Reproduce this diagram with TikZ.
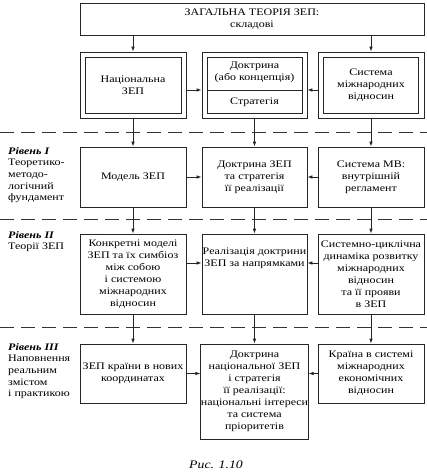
\documentclass[tikz,border=0pt]{standalone}
\usepackage{fontspec}
\setmainfont{Liberation Serif}[FakeStretch=1.2]
\usetikzlibrary{arrows.meta}
\begin{document}
\begin{tikzpicture}[x=1pt,y=-1pt,
  every node/.style={font=\fontsize{10}{12}\selectfont, inner sep=1pt},
  box/.style={draw=black!85, line width=0.8pt, align=center, inner sep=0pt},
  arr/.style={draw=black!85, line width=0.8pt, -{Latex[length=5pt,width=3.6pt]}},
  sep/.style={draw=black!80, line width=1pt, dash pattern=on 14pt off 7pt},
  lvl/.style={align=left, anchor=north west, inner sep=0pt, font=\fontsize{10}{11.7}\selectfont},
  lvlhead/.style={font=\bfseries\itshape}]
\useasboundingbox (0,0) rectangle (427,473);
% top
\node[box, minimum width=344, minimum height=32] (T) at (252,19) {ЗАГАЛЬНА ТЕОРІЯ ЗЕП:\\складові};
% row 1 (double boxes)
\node[box, minimum width=106, minimum height=66] (L1o) at (133,85) {};
\node[box, minimum width=96, minimum height=56] (L1i) at (133,85) {Національна\\ЗЕП};
\node[box, minimum width=105, minimum height=66] (M1o) at (254.5,85) {};
\node[box, minimum width=95, minimum height=56] (M1i) at (254.5,85) {};
\node (M1a) at (254.5,72) [align=center] {Доктрина\\(або концепція)};
\node (M1b) at (254.5,102) {Стратегія};
\coordinate (div) at (254.5,90);
\draw[black!85, line width=0.8pt] (M1i.west |- div) -- (M1i.east |- div);
\node[box, minimum width=106, minimum height=66] (R1o) at (371,85) {};
\node[box, minimum width=95, minimum height=56] (R1i) at (371,85) {Система\\міжнародних\\відносин};
% row 2
\node[box, minimum width=106, minimum height=60] (L2) at (133,177) {Модель ЗЕП};
\node[box, minimum width=105, minimum height=60] (M2) at (254.5,177) {Доктрина ЗЕП\\та стратегія\\її реалізації};
\node[box, minimum width=106, minimum height=60] (R2) at (371,177) {Система МВ:\\внутрішній\\регламент};
% row 3
\node[box, minimum width=106, minimum height=80] (L3) at (133,274) {Конкретні моделі\\ЗЕП та їх симбіоз\\між собою\\і системою\\міжнародних\\відносин};
\node[box, minimum width=105, minimum height=80] (M3) at (254.5,274) {};
\node (M3t) at (254.5,258) [align=center] {Реалізація доктрини\\ЗЕП за напрямками};
\node[box, minimum width=106, minimum height=80] (R3) at (371,274) {Системно-циклічна\\динаміка розвитку\\міжнародних\\відносин\\та її прояви\\в ЗЕП};
% row 4
\node[box, minimum width=106, minimum height=59] (L4) at (133,373.5) {ЗЕП країни в нових\\координатах};
\node[box, minimum width=105, minimum height=95] (M4) at (254.5,391.5) {Доктрина\\національної ЗЕП\\і стратегія\\її реалізації:\\національні інтереси\\та система\\пріоритетів};
\node[box, minimum width=106, minimum height=59] (R4) at (371,373.5) {Країна в системі\\міжнародних\\економічних\\відносин};
% separators
\coordinate (s1l) at (0,133); \coordinate (s1r) at (427,133);
\coordinate (s2l) at (0,219); \coordinate (s2r) at (427,219);
\coordinate (s3l) at (0,327); \coordinate (s3r) at (427,327);
\draw[sep] (s1l) -- (s1r);
\draw[sep] (s2l) -- (s2r);
\draw[sep] (s3l) -- (s3r);
% level labels
\node[lvl] (lv1) at (8,147) {{\bfseries\itshape Рівень I}\\Теоретико-\\методо-\\логічний\\фундамент};
\node[lvl] (lv2) at (8,231) {{\bfseries\itshape Рівень II}\\Теорії ЗЕП};
\node[lvl] (lv3) at (8,343) {{\bfseries\itshape Рівень III}\\Наповнення\\реальним\\змістом\\і практикою};
% arrows from top
\draw[arr] (T.south -| L1o.north) -- (L1o.north);
\draw[arr] (T.south -| R1o.north) -- (R1o.north);
% vertical arrows
\draw[arr] (L1o) -- (L2);
\draw[arr] (M1o) -- (M2);
\draw[arr] (R1o) -- (R2);
\draw[arr] (L2) -- (L3);
\draw[arr] (M2) -- (M3);
\draw[arr] (R2) -- (R3);
\draw[arr] (L3) -- (L4);
\draw[arr] (M3) -- (M4);
\draw[arr] (R3) -- (R4);
% horizontal arrows
\draw[arr] (L1o.east |- div) -- (M1o.west |- div);
\draw[arr] (R1o.west |- div) -- (M1o.east |- div);
\draw[arr] (L2) -- (M2);
\draw[arr] (R2) -- (M2);
\coordinate (h3) at (0,263);
\draw[arr] (L3.east |- h3) -- (M3.west |- h3);
\draw[arr] (R3.west |- h3) -- (M3.east |- h3);
\draw[arr] (L4.east) -- (L4.east -| M4.west);
\draw[arr] (R4.west) -- (R4.west -| M4.east);
% caption
\node[font=\fontsize{11.5}{13}\selectfont\itshape] (cap) at (216,465) {Рис. 1.10};
\end{tikzpicture}
\end{document}
